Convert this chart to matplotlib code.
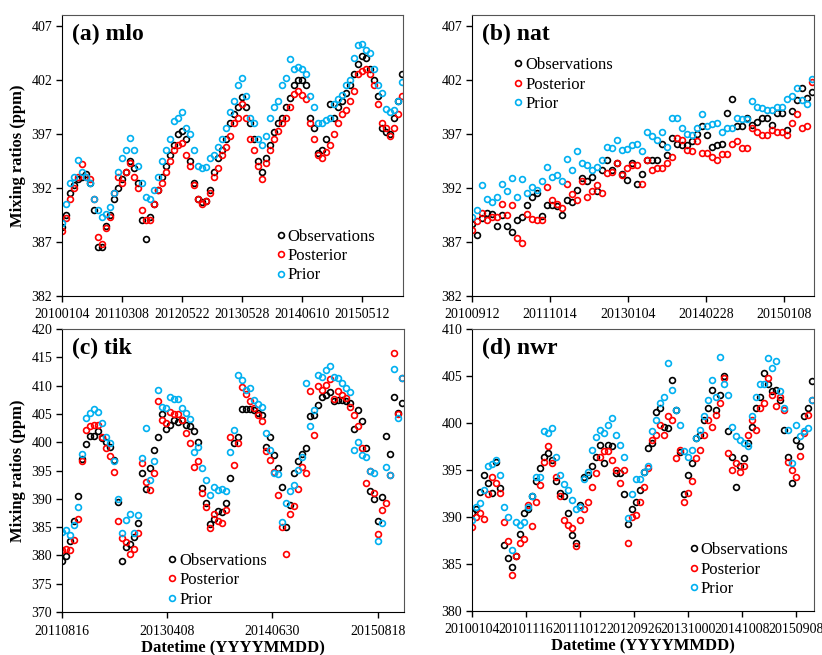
import numpy as np
import matplotlib
matplotlib.use("Agg")
import matplotlib.pyplot as plt

plt.rcParams["font.family"] = ["Liberation Serif", "DejaVu Serif"]
plt.rcParams["font.size"] = 10

# ---- data (ppm), sampled along each station record ----
mlo_obs = [388.4, 389.5, 391.5, 392.3, 392.8, 393.0, 393.3, 392.5, 390.0, 386.5,
           386.5, 388.5, 389.5, 391.0, 392.0, 392.8, 393.5, 394.5, 393.8, 392.5,
           389.0, 387.3, 389.3, 390.5, 391.8, 393.0, 394.0, 395.0, 396.0, 397.0,
           397.3, 396.5, 394.5, 392.5, 391.0, 390.7, 390.8, 391.8, 393.5, 394.8,
           395.5, 396.5, 398.0, 398.8, 399.5, 400.4, 399.5, 398.0, 396.5, 394.5,
           393.5, 394.8, 396.0, 397.2, 398.0, 398.5, 399.5, 400.3, 401.5, 402.0,
           402.0, 401.5, 398.5, 397.5, 395.2, 395.5, 396.5, 399.8, 398.5, 399.5,
           400.0, 400.8, 401.5, 402.5, 403.5, 404.2, 404.0, 403.0, 402.0, 400.5,
           397.5, 397.2, 397.0, 398.5, 400.0, 402.5]
mlo_post = [388.0, 389.2, 391.0, 392.0, 393.0, 394.2, 393.0, 392.8, 391.0, 387.5,
            386.8, 388.3, 389.3, 391.5, 393.0, 392.5, 393.5, 394.3, 393.0, 392.0,
            390.0, 389.0, 389.0, 390.5, 391.8, 392.5, 393.5, 394.5, 395.5, 396.0,
            396.2, 395.0, 394.0, 392.3, 391.0, 390.5, 390.8, 391.5, 393.0, 393.8,
            395.0, 395.8, 396.8, 398.0, 398.5, 399.8, 398.5, 396.5, 395.5, 394.0,
            392.8, 394.3, 395.5, 396.5, 397.3, 398.0, 398.5, 399.5, 400.7, 401.0,
            400.6, 400.2, 398.0, 396.5, 395.0, 394.8, 395.3, 396.0, 397.0, 398.0,
            398.8, 399.2, 400.0, 401.0, 402.5, 402.8, 403.0, 402.5, 401.5, 399.8,
            398.0, 397.5, 396.8, 397.5, 398.8, 400.5]
mlo_prior = [388.8, 390.5, 392.5, 393.0, 394.6, 393.5, 393.0, 392.5, 391.0, 390.0,
             389.3, 389.6, 390.2, 391.5, 393.5, 394.8, 395.5, 396.6, 395.5, 394.0,
             392.5, 391.2, 391.0, 391.8, 393.0, 394.5, 395.5, 396.5, 398.2, 398.5,
             399.0, 397.5, 397.0, 395.5, 394.0, 393.8, 393.9, 394.8, 395.0, 395.8,
             396.5, 397.5, 399.0, 400.0, 401.5, 402.2, 400.5, 398.5, 398.0, 396.5,
             396.0, 396.8, 398.5, 399.5, 400.0, 401.5, 402.2, 403.9, 403.0, 403.2,
             403.0, 402.5, 400.5, 399.5, 398.0, 398.0, 398.3, 398.5, 399.8, 400.2,
             400.6, 401.5, 402.0, 404.0, 405.2, 405.3, 404.8, 404.5, 403.0, 401.5,
             400.8, 399.3, 399.0, 399.2, 400.0, 401.8]

nat_obs = [388.7, 387.6, 389.2, 389.7, 389.6, 388.5, 389.5, 388.5, 387.9, 389.0,
           389.3, 390.4, 391.2, 391.5, 389.4, 390.4, 390.4, 390.3, 389.5, 390.9,
           390.7, 391.8, 392.9, 392.6, 393.0, 391.7, 393.7, 394.6, 393.7, 394.3,
           393.3, 392.7, 394.3, 392.4, 393.3, 394.6, 394.6, 394.6, 396.1, 395.0,
           396.6, 396.1, 396.0, 396.0, 396.3, 397.0, 397.7, 396.9, 395.8, 396.0,
           396.1, 398.9, 400.2, 397.7, 397.7, 398.5, 397.8, 398.1, 398.5, 398.5,
           397.8, 398.9, 398.9, 397.4, 399.1, 400.1, 401.2, 400.3, 400.9]
nat_post = [388.1, 388.9, 389.7, 389.0, 389.3, 389.3, 390.5, 389.5, 390.4, 387.4,
            386.9, 389.6, 389.1, 389.0, 389.0, 392.1, 390.9, 390.5, 390.1, 392.4,
            391.4, 390.9, 392.6, 391.2, 391.7, 392.3, 391.5, 393.4, 393.5, 394.3,
            393.2, 393.8, 394.1, 394.1, 392.4, 394.6, 393.7, 393.8, 393.8, 394.3,
            394.9, 396.6, 396.4, 395.5, 395.4, 396.3, 395.2, 395.2, 394.9, 394.6,
            395.1, 395.1, 396.1, 396.3, 395.7, 395.7, 397.5, 397.2, 396.9, 396.9,
            397.4, 397.2, 397.2, 396.9, 398.0, 398.8, 397.5, 397.7, 401.8]
nat_prior = [389.3, 390.0, 392.3, 391.0, 390.7, 391.2, 392.4, 391.7, 392.9, 391.2,
             392.8, 391.5, 392.1, 391.8, 392.6, 393.9, 393.0, 393.2, 392.6, 394.7,
             393.7, 395.4, 394.3, 394.1, 393.7, 393.9, 394.6, 395.8, 395.7, 396.4,
             395.5, 395.6, 396.0, 396.1, 395.4, 397.2, 396.8, 396.4, 397.2, 395.8,
             398.5, 398.5, 397.5, 397.0, 396.9, 397.5, 398.8, 397.7, 397.9, 398.0,
             397.2, 397.5, 397.5, 398.5, 398.4, 398.4, 400.0, 399.5, 399.4, 399.2,
             399.2, 399.5, 399.5, 400.2, 400.5, 401.2, 400.1, 399.8, 402.1]

tik_obs = [379.0, 379.9, 382.5, 386.0, 390.5, 397.0, 399.7, 401.1, 401.1, 402.0,
           400.7, 400.1, 399.2, 396.9, 389.5, 379.0, 381.5, 382.1, 383.3, 385.8,
           394.5, 391.7, 395.4, 398.6, 400.9, 404.9, 402.3, 403.0, 403.9, 403.5,
           404.0, 403.1, 402.8, 401.9, 400.1, 392.0, 389.2, 385.5, 386.4, 387.9,
           387.7, 389.3, 393.6, 399.8, 401.0, 405.8, 405.8, 405.8, 405.7, 405.2,
           404.8, 399.2, 401.0, 397.8, 395.4, 392.1, 385.1, 388.9, 394.6, 396.6,
           398.0, 398.9, 404.7, 404.8, 406.6, 408.0, 408.4, 408.8, 407.2, 407.5,
           407.5, 407.2, 406.9, 402.3, 405.7, 403.8, 399.0, 391.3, 390.0, 386.1,
           390.4, 401.1, 398.0, 407.9, 405.1, 406.9]
tik_post = [381.0, 381.2, 381.0, 382.7, 386.5, 396.7, 402.1, 402.8, 403.1, 403.1,
            401.0, 399.0, 397.6, 394.8, 386.0, 383.0, 382.4, 380.3, 381.2, 383.9,
            396.4, 393.0, 391.5, 394.5, 407.2, 403.9, 403.4, 405.4, 405.0, 405.0,
            403.9, 401.6, 399.9, 395.7, 396.6, 391.1, 388.5, 384.9, 387.3, 386.1,
            385.8, 388.1, 400.9, 396.0, 399.9, 409.7, 408.5, 407.2, 406.0, 404.8,
            403.8, 398.5, 396.9, 394.8, 390.7, 385.1, 380.3, 387.4, 388.7, 391.8,
            395.7, 394.5, 409.0, 401.3, 410.0, 409.3, 410.1, 411.1, 407.6, 409.0,
            408.4, 407.8, 406.3, 404.8, 402.9, 398.9, 392.8, 394.9, 391.1, 383.7,
            388.0, 389.2, 394.2, 415.7, 405.0, 411.3]
tik_prior = [384.2, 384.5, 383.6, 385.4, 388.5, 398.0, 404.3, 405.2, 405.8, 405.4,
             403.4, 401.0, 399.9, 396.6, 390.0, 383.9, 386.3, 387.4, 383.9, 387.1,
             397.3, 402.5, 393.4, 396.6, 409.3, 406.2, 406.0, 408.0, 407.6, 407.6,
             406.0, 405.1, 404.1, 398.2, 399.1, 395.4, 393.4, 390.7, 392.1, 391.5,
             391.7, 391.4, 398.2, 402.2, 411.9, 411.0, 409.3, 409.6, 407.5, 406.8,
             406.3, 401.6, 398.6, 394.6, 394.4, 385.9, 389.2, 391.3, 392.4, 395.1,
             397.4, 410.4, 402.8, 405.7, 411.9, 411.5, 412.7, 413.5, 411.6, 411.3,
             410.4, 409.6, 408.8, 398.6, 400.1, 397.7, 397.4, 395.0, 394.5, 382.6,
             385.8, 395.7, 394.2, 412.9, 404.2, 411.3]

nwr_obs = [390.4, 390.8, 392.7, 394.5, 393.6, 392.5, 395.9, 393.1, 387.0, 385.6,
           384.7, 385.8, 388.2, 390.4, 390.8, 392.2, 393.8, 395.2, 396.4, 396.8,
           396.1, 393.8, 392.5, 392.2, 390.4, 388.1, 387.2, 391.3, 394.3, 394.5,
           395.4, 396.4, 397.7, 395.7, 397.7, 397.5, 394.7, 394.7, 392.4, 389.3,
           390.8, 391.6, 392.9, 394.8, 397.3, 397.9, 401.2, 401.6, 399.6, 399.5,
           404.6, 401.4, 396.9, 392.4, 394.5, 395.7, 398.4, 398.7, 400.3, 401.6,
           403.5, 401.4, 403.0, 405.0, 399.1, 396.4, 393.2, 395.4, 396.3, 397.9,
           399.6, 401.6, 402.8, 405.3, 404.1, 403.4, 403.5, 402.5, 399.3, 396.4,
           393.6, 398.2, 397.5, 400.7, 401.6, 404.5]
nwr_post = [388.9, 390.0, 390.4, 389.8, 392.4, 394.3, 393.6, 392.5, 389.5, 387.4,
            383.8, 385.8, 387.2, 387.7, 391.3, 389.0, 391.6, 393.4, 395.9, 397.5,
            395.7, 394.3, 392.2, 389.7, 389.2, 388.8, 386.9, 389.7, 390.8, 391.6,
            393.2, 394.7, 396.4, 397.0, 397.0, 396.1, 395.0, 393.6, 395.0, 387.2,
            390.0, 390.2, 391.6, 393.2, 395.2, 398.2, 398.7, 399.8, 398.7, 400.7,
            400.3, 396.3, 397.1, 391.6, 392.5, 393.8, 396.3, 397.1, 398.7, 400.3,
            399.6, 400.9, 402.1, 404.8, 396.8, 395.0, 395.7, 394.8, 395.4, 398.7,
            400.3, 399.3, 401.6, 402.1, 404.8, 403.0, 401.8, 402.8, 401.4, 395.9,
            395.0, 394.3, 396.5, 398.9, 400.9, 402.5]
nwr_prior = [389.7, 391.1, 391.5, 392.9, 395.4, 395.6, 396.1, 394.5, 391.1, 390.0,
             386.5, 389.5, 389.2, 389.5, 391.1, 392.2, 394.3, 394.3, 399.1, 398.9,
             399.5, 396.4, 394.5, 393.5, 392.9, 391.8, 390.9, 391.1, 394.0, 394.8,
             397.1, 398.5, 399.3, 398.9, 399.8, 400.5, 398.7, 397.7, 396.4, 389.9,
             392.4, 394.0, 394.0, 394.8, 395.4, 399.1, 400.3, 402.1, 402.8, 406.4,
             403.5, 401.4, 399.8, 397.0, 396.4, 397.1, 398.4, 399.3, 400.7, 402.5,
             404.6, 402.8, 407.0, 404.2, 403.0, 399.6, 398.6, 398.2, 397.9, 397.5,
             400.7, 402.8, 404.1, 404.2, 406.9, 405.8, 406.6, 403.4, 401.6, 399.3,
             395.7, 399.8, 398.6, 399.1, 399.5, 402.5]

mlo_dates = ["20100104", "20110308", "20120522", "20130528", "20140610", "20150512"]
nat_dates = ["20100912", "20111014", "20130104", "20140228", "20150108"]
tik_dates = ["20110816", "20130408", "20140630", "20150818"]
nwr_dates = ["20100104", "20101116", "20111012", "20120926", "20131000", "20141008", "20150908"]

black = "#000000"
red = "#FF0000"
blue = "#00B0F0"


def panel(ax, title, obs, post, prior, dates, tick_step, xmax, ylim, yticks, leg_xy):
    x = np.arange(len(obs))
    kw = dict(ls="none", marker="o", mfc="none", ms=4.2, mew=1.2)
    ax.plot(x, obs, color=black, label="Observations", **kw)
    ax.plot(x, post, color=red, label="Posterior", **kw)
    ax.plot(x, prior, color=blue, label="Prior", **kw)
    ax.set_xlim(0, xmax)
    ax.set_ylim(ylim)
    ax.set_yticks(yticks)
    ax.set_xticks(np.arange(len(dates)) * tick_step)
    ax.set_xticklabels(dates)
    ax.tick_params(direction="out", length=4, width=1, labelsize=10, pad=3)
    ax.tick_params(axis="x", pad=5)
    for s in ["left", "bottom"]:
        ax.spines[s].set_color("black")
    for s in ["top", "right"]:
        ax.spines[s].set_color("#555555")
    ax.text(0.03, 0.93, title, transform=ax.transAxes, fontsize=17,
            fontweight="bold", va="center", ha="left")
    ax.legend(loc="upper left", bbox_to_anchor=leg_xy, frameon=False, fontsize=12,
              handlelength=0.6, handletextpad=0.1, labelspacing=0.2, borderpad=0.2)


fig = plt.figure(figsize=(8.22, 6.55), dpi=100)
ax1 = fig.add_axes([0.0754, 0.5481, 0.4148, 0.4290])
ax2 = fig.add_axes([0.5742, 0.5481, 0.4161, 0.4290])
ax3 = fig.add_axes([0.0754, 0.0656, 0.4161, 0.4321])
ax4 = fig.add_axes([0.5742, 0.0672, 0.4161, 0.4305])

panel(ax1, "(a) mlo", mlo_obs, mlo_post, mlo_prior, mlo_dates, 15, 85.25,
      (382, 408), [382, 387, 392, 397, 402, 407], (0.594, 0.281))
panel(ax2, "(b) nat", nat_obs, nat_post, nat_prior, nat_dates, 15.6, 68.4,
      (382, 408), [382, 387, 392, 397, 402, 407], (0.087, 0.891))
panel(ax3, "(c) tik", tik_obs, tik_post, tik_prior, tik_dates, 26.33, 85.6,
      (370, 420), [370, 375, 380, 385, 390, 395, 400, 405, 410, 415, 420], (0.274, 0.25))
panel(ax4, "(d) nwr", nwr_obs, nwr_post, nwr_prior, nwr_dates, 13.5, 85.6,
      (380, 410), [380, 385, 390, 395, 400, 405, 410], (0.599, 0.285))

for ax in [ax1, ax3]:
    ax.set_ylabel("Mixing ratios (ppm)", fontsize=12, fontweight="bold", labelpad=4)
for ax in [ax3, ax4]:
    ax.set_xlabel("Datetime (YYYYMMDD)", fontsize=12, fontweight="bold", labelpad=1)

fig.savefig("out.png", dpi=100)
